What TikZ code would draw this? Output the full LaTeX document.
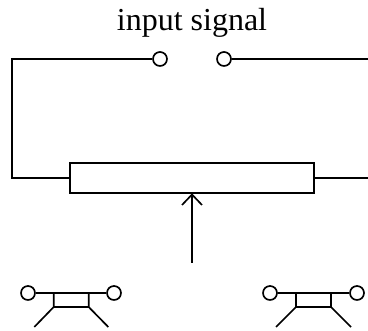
\documentclass[tikz,border=0pt]{standalone}
\usepackage{fontspec}
\setmainfont{Liberation Serif}
\begin{document}
\begin{tikzpicture}[x=0.75pt,y=-0.75pt,line width=1.25pt]
    \tikzset{
        terminal/.style={circle,draw,fill=white,inner sep=0,minimum size=10.5pt},
        wiper/.style={draw,fill=white,inner sep=0,minimum width=183pt,minimum height=22.5pt}
    }
    \useasboundingbox (0,0) rectangle (368,331);
    \node[font=\fontsize{24pt}{24pt}\selectfont,inner sep=0,anchor=base](label) at (192,30.5){input signal};
    \node[terminal](inleft) at (160,59){};
    \node[terminal](inright) at (224,59){};
    \node[wiper](pot) at (192,178){};
    % wires
    \coordinate (cornertop) at (12,59);
    \coordinate (cornerbottom) at (12,178);
    \coordinate (edgetop) at (368,59);
    \coordinate (edgebottom) at (368,178);
    \coordinate (armstart) at (192,263);
    \draw (inleft) -- (cornertop) -- (cornerbottom) -- (pot);
    \draw (inright) -- (edgetop);
    \draw (pot) -- (edgebottom);
    % arm with open tip
    \coordinate (armtip) at (192,194.5);
    \coordinate (tipleft) at (182,205);
    \coordinate (tipright) at (202,205);
    \draw (armstart) -- (armtip);
    \draw (tipleft) -- (armtip) -- (tipright);
    % the two stands
    \foreach \n/\ca/\cb/\ba/\bb/\la/\lb in {a/28/114/53.7/88.7/34.3/108.3,b/270/357/296/331/276/351}{
        \node[terminal](\n left) at (\ca,293){};
        \node[terminal](\n right) at (\cb,293){};
        \coordinate (\n topl) at (\ba,293);
        \coordinate (\n topr) at (\bb,293);
        \coordinate (\n botl) at (\ba,307);
        \coordinate (\n botr) at (\bb,307);
        \coordinate (\n footl) at (\la,327);
        \coordinate (\n footr) at (\lb,327);
        \draw (\n left) -- (\n right);
        \draw (\n footl) -- (\n botl) -- (\n topl);
        \draw (\n footr) -- (\n botr) -- (\n topr);
        \draw (\n botl) -- (\n botr);
    }
\end{tikzpicture}
\end{document}
